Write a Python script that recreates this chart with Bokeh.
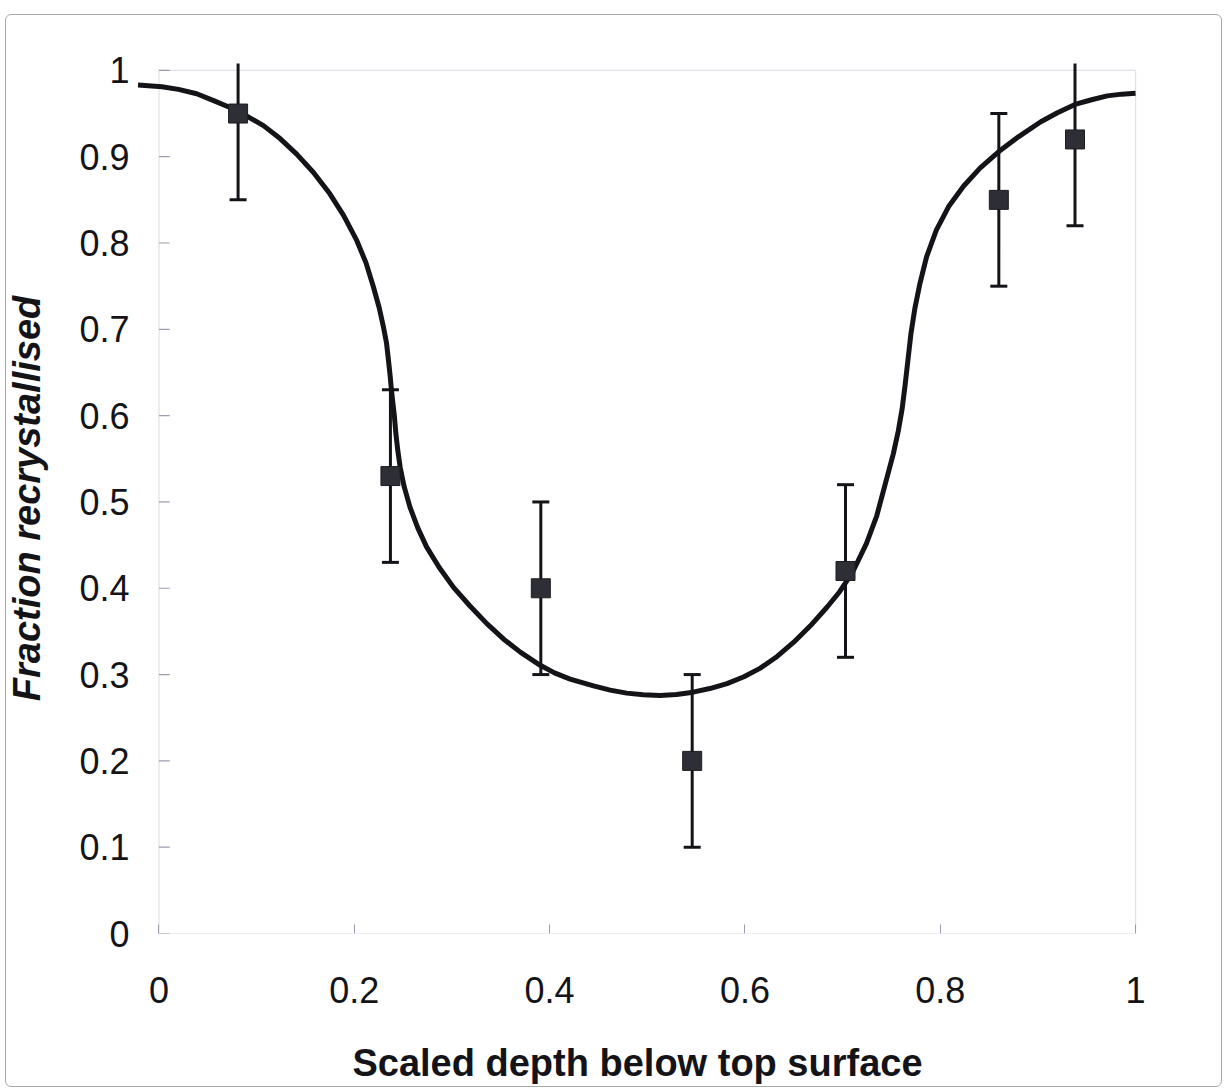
from bokeh.plotting import figure
from bokeh.models import Range1d, FixedTicker, BoxAnnotation
from bokeh.embed import file_html
from bokeh.resources import INLINE

# Measured fraction recrystallised vs scaled depth, with +/- error
depth = [0.081, 0.237, 0.391, 0.546, 0.703, 0.860, 0.938]
fraction = [0.95, 0.53, 0.40, 0.20, 0.42, 0.85, 0.92]
err = [0.10, 0.10, 0.10, 0.10, 0.10, 0.10, 0.10]

# Model curve through the profile
curve_x = [-0.0215, 0.003, 0.020, 0.0386, 0.056, 0.0727, 0.090, 0.107, 0.124,
           0.141, 0.158, 0.175, 0.189, 0.2025, 0.212, 0.2196, 0.2255, 0.2298,
           0.233, 0.235, 0.2368, 0.238, 0.2395, 0.241, 0.2425, 0.2445, 0.247,
           0.251, 0.257, 0.265, 0.274, 0.287, 0.3016, 0.318, 0.3357, 0.353,
           0.370, 0.390, 0.405, 0.421, 0.445, 0.462, 0.479, 0.496, 0.513,
           0.530, 0.547, 0.564, 0.5817, 0.599, 0.6158, 0.633, 0.650, 0.667,
           0.684, 0.697, 0.710, 0.7245, 0.735, 0.744, 0.752, 0.757, 0.761,
           0.764, 0.767, 0.770, 0.774, 0.779, 0.786, 0.796, 0.809, 0.824,
           0.841, 0.860, 0.880, 0.903, 0.920, 0.938, 0.955, 0.971, 0.986, 1.0]
curve_y = [0.983, 0.981, 0.978, 0.973, 0.965, 0.957, 0.947, 0.936, 0.921,
           0.903, 0.882, 0.857, 0.832, 0.803, 0.777, 0.749, 0.725, 0.703,
           0.684, 0.664, 0.645, 0.630, 0.615, 0.600, 0.580, 0.560, 0.540,
           0.518, 0.494, 0.470, 0.448, 0.424, 0.401, 0.380, 0.359, 0.341,
           0.326, 0.311, 0.302, 0.2948, 0.2869, 0.2820, 0.2785, 0.2765, 0.2758,
           0.2768, 0.2796, 0.2838, 0.2895, 0.2975, 0.3075, 0.321, 0.3375, 0.3565,
           0.378, 0.396, 0.418, 0.452, 0.484, 0.522, 0.556, 0.582, 0.608,
           0.635, 0.665, 0.695, 0.724, 0.752, 0.784, 0.815, 0.843, 0.866,
           0.887, 0.906, 0.923, 0.9405, 0.951, 0.9606, 0.966, 0.9705, 0.9725, 0.9735]

x_ticks = [0, 0.2, 0.4, 0.6, 0.8, 1]
x_tick_labels = ["0", "0.2", "0.4", "0.6", "0.8", "1"]
y_ticks = [0, 0.1, 0.2, 0.3, 0.4, 0.5, 0.6, 0.7, 0.8, 0.9, 1]
y_tick_labels = ["0", "0.1", "0.2", "0.3", "0.4", "0.5", "0.6", "0.7", "0.8", "0.9", "1"]

FONT = "Liberation Sans"
INK = "#141418"
FRAME = "#9c9cae"

p = figure(width=1226, height=1090, output_backend="svg", toolbar_location=None,
           x_range=Range1d(-0.022, 1.002), y_range=Range1d(0, 1.008),
           min_border_left=137, min_border_right=89,
           min_border_top=63, min_border_bottom=157)
p.outline_line_color = None
p.grid.grid_line_color = None
p.background_fill_color = "white"
p.border_fill_color = "white"

# thin page border drawn over the canvas
p.stylesheets = [
    ":host { position: relative; }"
    ":host::after { content: ''; position: absolute; left: 5px; top: 14px;"
    " right: 4px; bottom: 3px; border: 1.5px solid #a8a8a8; border-radius: 6px;"
    " pointer-events: none; }"
]

# plot-area box from 0..1 on both axes
p.add_layout(BoxAnnotation(left=0, right=1, bottom=0, top=1, fill_alpha=0,
                           line_color=FRAME, line_width=1.2, level="underlay"))

# x axis
xa = p.xaxis[0]
xa.ticker = FixedTicker(ticks=x_ticks)
xa.major_label_overrides = dict(zip(x_ticks, x_tick_labels))
xa.axis_line_color = None
xa.major_tick_in = 9
xa.major_tick_out = 0
xa.major_tick_line_color = FRAME
xa.minor_tick_line_color = None
xa.major_label_standoff = 43
xa.major_label_text_font = FONT
xa.major_label_text_font_size = "36px"
xa.major_label_text_color = INK
xa.axis_label = "Scaled depth below top surface"
xa.axis_label_text_font = FONT
xa.axis_label_text_font_style = "bold"
xa.axis_label_text_font_size = "38px"
xa.axis_label_text_color = INK
xa.axis_label_standoff = 36

# y axis
ya = p.yaxis[0]
ya.ticker = FixedTicker(ticks=y_ticks)
ya.major_label_overrides = dict(zip(y_ticks, y_tick_labels))
ya.axis_line_color = None
ya.major_tick_in = 0
ya.major_tick_out = 0
ya.minor_tick_line_color = None
ya.major_label_standoff = 8
ya.major_label_text_font = FONT
ya.major_label_text_font_size = "36px"
ya.major_label_text_color = INK
ya.axis_label = "Fraction recrystallised"
ya.axis_label_text_font = FONT
ya.axis_label_text_font_style = "bold italic"
ya.axis_label_text_font_size = "38px"
ya.axis_label_text_color = INK
ya.axis_label_standoff = 28

# inward y tick marks on the 0..1 box edge
tick_len = 0.011
p.segment(x0=[0] * len(y_ticks), y0=y_ticks, x1=[tick_len] * len(y_ticks), y1=y_ticks,
          line_color=FRAME, line_width=1.2)

# error bars with caps
lower = [f - e for f, e in zip(fraction, err)]
upper = [f + e for f, e in zip(fraction, err)]
p.segment(x0=depth, y0=lower, x1=depth, y1=upper, line_color=INK, line_width=3)
p.scatter(depth, lower, marker="dash", size=17, line_color=INK, line_width=3)
p.scatter(depth, upper, marker="dash", size=17, line_color=INK, line_width=3)

# fitted curve
p.line(curve_x, curve_y, line_color=INK, line_width=5, line_join="round", line_cap="butt")

# data markers
p.scatter(depth, fraction, marker="square", size=19, fill_color="#2e2e36",
          line_color="#1c1c22", line_width=1)

open("out.html", "w").write(file_html(p, INLINE))
